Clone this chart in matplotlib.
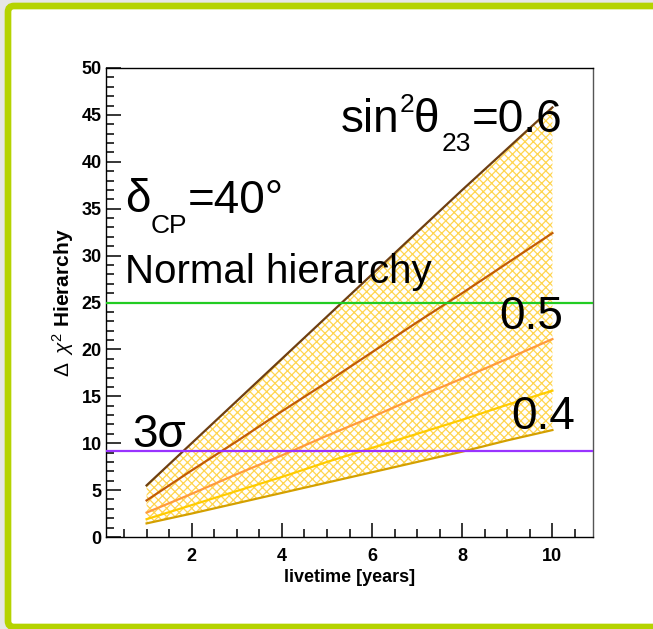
import numpy as np
import matplotlib
matplotlib.use('Agg')
import matplotlib.pyplot as plt
from matplotlib.patches import FancyBboxPatch
from matplotlib.transforms import IdentityTransform

plt.rcParams['font.family'] = ['Liberation Sans', 'DejaVu Sans']
plt.rcParams['mathtext.fontset'] = 'custom'
plt.rcParams['mathtext.rm'] = 'Liberation Sans'
plt.rcParams['mathtext.it'] = 'Liberation Sans:italic'
plt.rcParams['mathtext.bf'] = 'Liberation Sans:bold'
plt.rcParams['hatch.linewidth'] = 0.9

# livetime in years
years = [1, 2, 3, 4, 5, 6, 7, 8, 9, 10]
# delta chi2 for each sin^2 theta23 value
chi2_060 = [5.5, 10.0, 14.5, 19.0, 23.5, 28.0, 32.5, 37.0, 41.4, 45.8]
chi2_055 = [3.9, 7.1, 10.2, 13.4, 16.5, 19.7, 22.9, 26.0, 29.2, 32.4]
chi2_050 = [2.6, 4.6, 6.7, 8.7, 10.8, 12.8, 14.9, 16.9, 19.0, 21.1]
chi2_045 = [1.9, 3.4, 4.9, 6.4, 8.0, 9.5, 11.0, 12.5, 14.1, 15.6]
chi2_040 = [1.45, 2.5, 3.6, 4.7, 5.8, 6.9, 8.0, 9.1, 10.3, 11.4]
line_colors = ['#6e3f12', '#c25c05', '#ff9a3c', '#ffcc00', '#d4a000']

nh_level = 25     # green line
sigma3_level = 9.2  # purple line (3 sigma)

fig = plt.figure(figsize=(6.53, 6.29), dpi=100, facecolor='#e6e6e6')
# slide frame, behind everything
frame = FancyBboxPatch((8, 2), 700, 621, boxstyle='round,pad=0,rounding_size=6',
                       transform=IdentityTransform(), facecolor='white',
                       edgecolor='#b5d300', linewidth=4.8, zorder=-10)
fig.patches.append(frame)

ax = fig.add_axes([106/653, 92/629, 487/653, 469/629])
ax.set_facecolor('none')

x = np.array(years)
ax.fill_between(x, chi2_040, chi2_060, facecolor='none', edgecolor='#ffd54f',
                hatch='xxxx', linewidth=0, zorder=1)

series = [chi2_060, chi2_055, chi2_050, chi2_045, chi2_040]
for vals, c in zip(series, line_colors):
    ax.plot(x, vals, '-', color=c, linewidth=1.6, zorder=3)

ax.axhline(nh_level, color='#22cc22', linewidth=1.6, zorder=4)
ax.axhline(sigma3_level, color='#9933ff', linewidth=1.6, zorder=4)

ax.set_xlim(0.1, 10.9)
ax.set_ylim(0, 50)
ax.set_xticks([2, 4, 6, 8, 10])
ax.set_xticks(np.arange(0.5, 10.9, 0.5), minor=True)
ax.set_yticks(np.arange(0, 51, 5))
ax.set_yticks(np.arange(0, 51, 1), minor=True)
ax.xaxis.set_ticks_position('bottom')
ax.yaxis.set_ticks_position('left')
ax.tick_params(axis='both', which='both', direction='in', color='black', width=1.1,
               top=False, right=False, bottom=True, left=True)
ax.tick_params(axis='x', which='major', length=10, pad=8)
ax.tick_params(axis='x', which='minor', length=5.5)
ax.tick_params(axis='y', which='major', length=10.5, pad=3)
ax.tick_params(axis='y', which='minor', length=5.5)
for lab in ax.get_xticklabels() + ax.get_yticklabels():
    lab.set_fontweight('bold')
    lab.set_fontsize(13)
for s in ax.spines.values():
    s.set_linewidth(1.0)
ax.spines['right'].set_color('#555555')

ax.set_xlabel('livetime [years]', fontsize=13, fontweight='bold', labelpad=3)
ax.set_ylabel(r'$\Delta\;\;\chi^{2}$ Hierarchy', fontsize=15, fontweight='bold')
ax.yaxis.set_label_coords(-0.062, 0.5)

big = 33
small = 19
# sin^2 theta23 = 0.6
ax.text(5.30, 43.2, 'sin', fontsize=big, va='baseline', ha='left', zorder=5)
ax.text(6.62, 45.3, '2', fontsize=19, va='baseline', ha='left', zorder=5)
ax.text(6.93, 43.2, '\u03b8', fontsize=big, va='baseline', ha='left', zorder=5)
ax.text(7.55, 41.2, '23', fontsize=small, va='baseline', ha='left', zorder=5)
ax.text(8.22, 43.2, '=0.6', fontsize=big, va='baseline', ha='left', zorder=5)
# delta CP
ax.text(0.52, 34.6, '\u03b4', fontsize=big, va='baseline', ha='left', zorder=5)
ax.text(1.10, 32.4, 'CP', fontsize=small, va='baseline', ha='left', zorder=5)
ax.text(1.92, 34.5, '=40\u00b0', fontsize=big, va='baseline', ha='left', zorder=5)
ax.text(0.52, 27.1, 'Normal hierarchy', fontsize=29, va='baseline', ha='left', zorder=5)
ax.text(8.82, 22.2, '0.5', fontsize=big, va='baseline', ha='left', zorder=5)
ax.text(9.08, 11.5, '0.4', fontsize=big, va='baseline', ha='left', zorder=5)
ax.text(0.68, 9.6, '3\u03c3', fontsize=big, va='baseline', ha='left', zorder=5)

fig.savefig('out.png', dpi=100, facecolor=fig.get_facecolor())
